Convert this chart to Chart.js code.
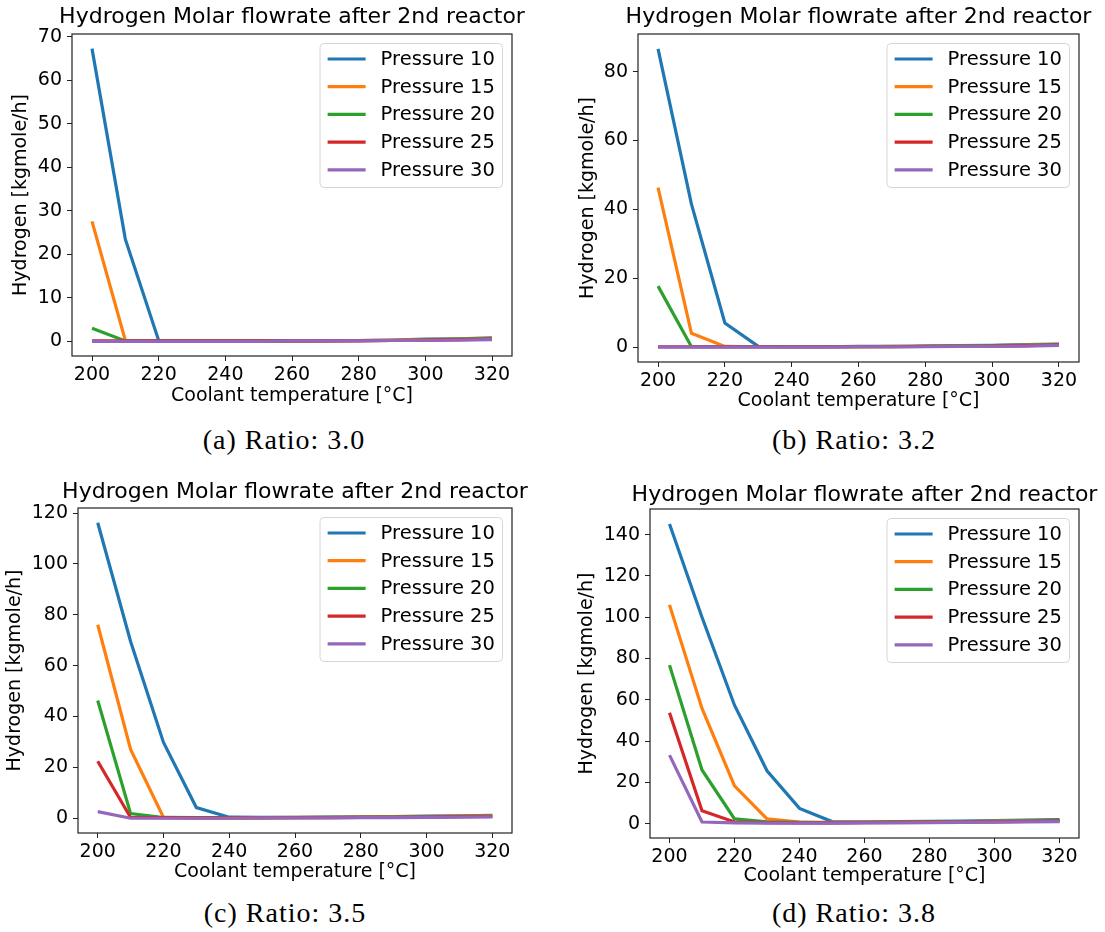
<!DOCTYPE html>
<html>
<head>
<meta charset="utf-8">
<script src="https://cdn.jsdelivr.net/npm/chart.js@4.4.1/dist/chart.umd.min.js"></script>
<style>
  body { margin: 0; background: #fff; }
  #page { position: relative; width: 1105px; height: 932px; overflow: hidden; background: #fff; }
  #page canvas { position: absolute; }
  .caption {
    position: absolute;
    font-family: "Liberation Serif", serif;
    font-size: 28px;
    letter-spacing: 1px;
    transform: translate(-50%, -50%);
    white-space: nowrap;
    color: #000;
  }
</style>
</head>
<body>
<div id="page">
  <canvas id="chartA"></canvas>
  <canvas id="chartB"></canvas>
  <canvas id="chartC"></canvas>
  <canvas id="chartD"></canvas>
  <div class="caption" style="left:284px; top:440px">(a) Ratio: 3.0</div>
  <div class="caption" style="left:854px; top:440px">(b) Ratio: 3.2</div>
  <div class="caption" style="left:285px; top:913px">(c) Ratio: 3.5</div>
  <div class="caption" style="left:854px; top:913px">(d) Ratio: 3.8</div>
</div>

<script>
// coolant temperature [°C]
const temperatures = [200, 210, 220, 230, 240, 250, 260, 270, 280, 290, 300, 310, 320];
const xTicks = [200, 220, 240, 260, 280, 300, 320];
const pressures = [10, 15, 20, 25, 30];
const colors = ['#1f77b4', '#ff7f0e', '#2ca02c', '#d62728', '#9467bd'];

// hydrogen flow [kgmole/h], one row per pressure
const ratio30 = [
	[67.3, 23.5, 0.2, 0.1, 0.1, 0.1, 0.1, 0.2, 0.2, 0.3, 0.5, 0.6, 0.8],
	[27.6, 0.2, 0.1, 0.1, 0.1, 0.1, 0.1, 0.1, 0.2, 0.3, 0.4, 0.5, 0.7],
	[3.0, 0.1, 0.1, 0.1, 0.1, 0.1, 0.1, 0.1, 0.2, 0.2, 0.3, 0.5, 0.6],
	[0.1, 0.1, 0.1, 0.1, 0.1, 0.1, 0.1, 0.1, 0.1, 0.2, 0.3, 0.4, 0.5],
	[0.0, 0.0, 0.0, 0.0, 0.0, 0.0, 0.1, 0.1, 0.1, 0.2, 0.2, 0.3, 0.4]
];
const ratio32 = [
	[86.6, 41.5, 7.0, 0.2, 0.1, 0.1, 0.2, 0.2, 0.3, 0.4, 0.5, 0.7, 0.9],
	[46.3, 4.0, 0.2, 0.1, 0.1, 0.1, 0.1, 0.2, 0.2, 0.3, 0.4, 0.6, 0.8],
	[17.7, 0.1, 0.1, 0.1, 0.1, 0.1, 0.1, 0.1, 0.2, 0.3, 0.4, 0.5, 0.7],
	[0.1, 0.1, 0.1, 0.1, 0.1, 0.1, 0.1, 0.1, 0.2, 0.2, 0.3, 0.4, 0.6],
	[0.0, 0.0, 0.0, 0.0, 0.0, 0.0, 0.1, 0.1, 0.1, 0.2, 0.2, 0.3, 0.5]
];
const ratio35 = [
	[116.2, 69.5, 29.8, 4.2, 0.4, 0.3, 0.3, 0.4, 0.5, 0.6, 0.8, 0.9, 1.1],
	[76.1, 27.1, 0.3, 0.2, 0.2, 0.2, 0.3, 0.3, 0.4, 0.5, 0.6, 0.8, 1.0],
	[46.3, 1.8, 0.3, 0.2, 0.2, 0.2, 0.2, 0.3, 0.3, 0.4, 0.5, 0.7, 0.8],
	[22.4, 0.3, 0.2, 0.1, 0.1, 0.1, 0.2, 0.2, 0.3, 0.3, 0.4, 0.6, 0.7],
	[2.6, 0.0, 0.0, 0.0, 0.0, 0.1, 0.1, 0.1, 0.2, 0.2, 0.3, 0.4, 0.5]
];
const ratio38 = [
	[145.2, 100.0, 57.4, 25.6, 7.4, 1.0, 0.9, 1.0, 1.1, 1.3, 1.5, 1.7, 2.0],
	[106.0, 55.8, 18.3, 2.3, 0.8, 0.6, 0.7, 0.8, 0.9, 1.0, 1.2, 1.4, 1.6],
	[76.8, 26.0, 2.3, 0.9, 0.6, 0.5, 0.6, 0.7, 0.8, 0.9, 1.1, 1.3, 1.5],
	[53.7, 6.3, 0.8, 0.5, 0.4, 0.4, 0.5, 0.6, 0.7, 0.8, 0.9, 1.1, 1.3],
	[33.2, 0.8, 0.4, 0.3, 0.3, 0.3, 0.4, 0.4, 0.5, 0.6, 0.7, 0.9, 1.0]
];

const yTicksA = [0, 10, 20, 30, 40, 50, 60, 70];
const yTicksB = [0, 20, 40, 60, 80];
const yTicksC = [0, 20, 40, 60, 80, 100, 120];
const yTicksD = [0, 20, 40, 60, 80, 100, 120, 140];

const FONT = '"DejaVu Sans", sans-serif';
const TITLE = 'Hydrogen Molar flowrate after 2nd reactor';

// black box round the plot area, like matplotlib spines
const frame = {
	id: 'frame',
	afterDatasetsDraw(chart) {
		const {ctx, chartArea: a} = chart;
		ctx.save();
		ctx.strokeStyle = '#222';
		ctx.lineWidth = 1.2;
		ctx.strokeRect(a.left, a.top, a.right - a.left, a.bottom - a.top);
		ctx.restore();
	}
};

// title centred over the plot area (not the whole canvas)
const areaTitle = {
	id: 'areaTitle',
	afterDraw(chart, args, opts) {
		const {ctx, chartArea: a} = chart;
		ctx.save();
		ctx.font = '22px ' + FONT;
		ctx.fillStyle = '#000';
		ctx.textAlign = 'center';
		ctx.textBaseline = 'middle';
		ctx.fillText(opts.text, (a.left + a.right) / 2, opts.y);
		ctx.restore();
	}
};

// legend drawn inside the plot area, upper right, with a rounded box
const boxLegend = {
	id: 'boxLegend',
	afterDraw(chart) {
		const {ctx, chartArea: a} = chart;
		const sets = chart.data.datasets;
		ctx.save();
		ctx.font = '19.5px ' + FONT;
		const textW = Math.max(...sets.map(d => ctx.measureText(d.label).width));
		const pad = 7.6, handle = 38, gap = 15, rowH = 27.7;
		const w = pad * 2 + handle + gap + textW;
		const h = 144;
		const x = a.right - 9.5 - w;
		const y = a.top + 9.5;
		ctx.beginPath();
		ctx.roundRect(x, y, w, h, 4);
		ctx.fillStyle = 'rgba(255,255,255,0.8)';
		ctx.fill();
		ctx.strokeStyle = '#d6d6d6';
		ctx.lineWidth = 1;
		ctx.stroke();
		ctx.textBaseline = 'middle';
		ctx.fillStyle = '#000';
		sets.forEach((d, i) => {
			const cy = y + 15.5 + i * rowH;
			ctx.beginPath();
			ctx.moveTo(x + pad, cy);
			ctx.lineTo(x + pad + handle, cy);
			ctx.strokeStyle = d.borderColor;
			ctx.lineWidth = d.borderWidth;
			ctx.stroke();
			ctx.fillText(d.label, x + pad + handle + gap, cy + 1);
		});
		ctx.restore();
	}
};

const panels = [
	{id: 'chartA', rows: ratio30, yTicks: yTicksA, left: 72, right: 512, top: 34, bottom: 356, canvasTop: 0, titleY: 17, yLabelX: 21, xLabelY: 396},
	{id: 'chartB', rows: ratio32, yTicks: yTicksB, left: 638, right: 1079, top: 34, bottom: 362, canvasTop: 0, titleY: 17, yLabelX: 588, xLabelY: 401},
	{id: 'chartC', rows: ratio35, yTicks: yTicksC, left: 78, right: 512, top: 508, bottom: 833, canvasTop: 470, titleY: 492, yLabelX: 15, xLabelY: 872},
	{id: 'chartD', rows: ratio38, yTicks: yTicksD, left: 650, right: 1079, top: 509, bottom: 838, canvasTop: 470, titleY: 495, yLabelX: 587, xLabelY: 876}
];

panels.forEach(p => {
	const side = 80;
	const canvas = document.getElementById(p.id);
	const canvasLeft = p.left - side;
	const width = (p.right - p.left) + side * 2;
	const height = Math.round(p.xLabelY - p.canvasTop + 11.4);
	canvas.width = width;
	canvas.height = height;
	canvas.style.left = canvasLeft + 'px';
	canvas.style.top = p.canvasTop + 'px';

	const all = p.rows.flat();
	const lo = Math.min(...all), hi = Math.max(...all);
	const m = (hi - lo) * 0.05;

	new Chart(canvas, {
		type: 'line',
		data: {
			datasets: p.rows.map((row, i) => ({
				label: 'Pressure ' + pressures[i],
				data: row.map((v, j) => ({x: temperatures[j], y: v})),
				borderColor: colors[i],
				backgroundColor: colors[i],
				borderWidth: 3.2,
				pointRadius: 0,
				tension: 0,
				order: pressures.length - i
			}))
		},
		options: {
			responsive: false,
			animation: false,
			layout: {padding: {left: 0, right: side, top: p.top - p.canvasTop, bottom: 0}},
			plugins: {
				legend: {display: false},
				tooltip: {enabled: false},
				title: {display: false},
				areaTitle: {text: TITLE, y: p.titleY - p.canvasTop}
			},
			scales: {
				x: {
					type: 'linear',
					min: 194,
					max: 326,
					afterBuildTicks: axis => { axis.ticks = xTicks.map(v => ({value: v})); },
					afterFit: axis => { axis.height = height - (p.bottom - p.canvasTop); },
					grid: {drawOnChartArea: false, drawTicks: true, tickLength: 5, tickColor: '#222'},
					border: {display: false},
					ticks: {color: '#000', font: {family: FONT, size: 19}, padding: 3, maxRotation: 0},
					title: {
						display: true,
						text: 'Coolant temperature [°C]',
						color: '#000',
						font: {family: FONT, size: 19},
						padding: {top: 0, bottom: 0}
					}
				},
				y: {
					type: 'linear',
					min: lo - m,
					max: hi + m,
					afterBuildTicks: axis => { axis.ticks = p.yTicks.map(v => ({value: v})); },
					afterFit: axis => { axis.width = side; },
					grid: {drawOnChartArea: false, drawTicks: true, tickLength: 5, tickColor: '#222'},
					border: {display: false},
					ticks: {color: '#000', font: {family: FONT, size: 19}, padding: 5},
					title: {
						display: true,
						text: 'Hydrogen [kgmole/h]',
						color: '#000',
						font: {family: FONT, size: 19},
						padding: {top: p.yLabelX - canvasLeft - 11.4, bottom: 0}
					}
				}
			}
		},
		plugins: [frame, areaTitle, boxLegend]
	});
});
</script>
</body>
</html>
